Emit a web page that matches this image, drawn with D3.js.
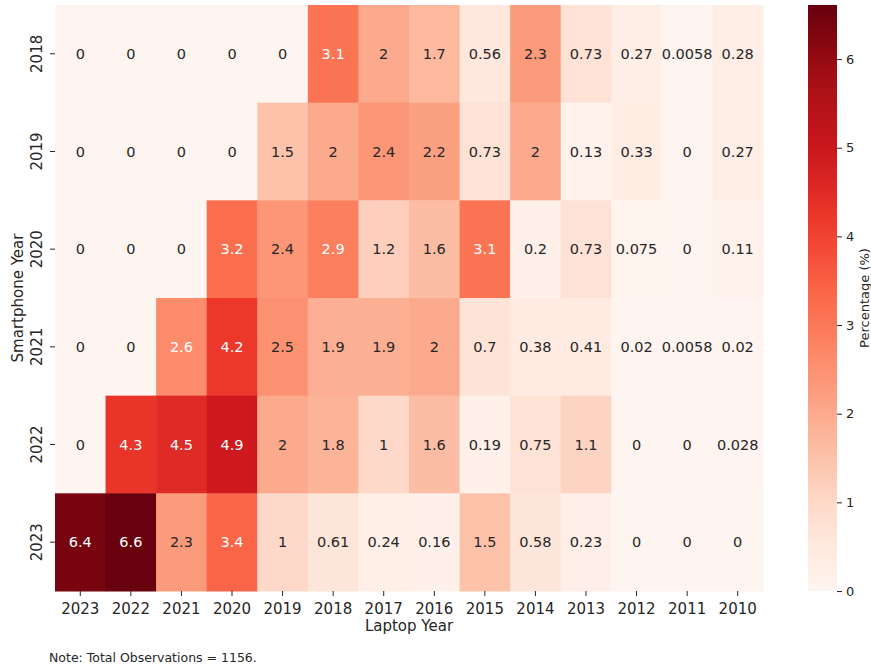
<!DOCTYPE html>
<html>
<head>
<meta charset="utf-8">
<script src="https://cdn.jsdelivr.net/npm/d3@7"></script>
<style>
  body { margin: 0; background: #fff; }
  text { font-family: "DejaVu Sans", sans-serif; fill: #262626; }
</style>
</head>
<body>
<svg id="chart" width="871" height="672"></svg>
<script>
// laptop years across, smartphone years down
var laptopYears = ["2023", "2022", "2021", "2020", "2019", "2018", "2017", "2016", "2015", "2014", "2013", "2012", "2011", "2010"];
var phoneYears = ["2018", "2019", "2020", "2021", "2022", "2023"];

var row2018 = [0, 0, 0, 0, 0, 3.1, 2, 1.7, 0.56, 2.3, 0.73, 0.27, 0.0058, 0.28];
var row2019 = [0, 0, 0, 0, 1.5, 2, 2.4, 2.2, 0.73, 2, 0.13, 0.33, 0, 0.27];
var row2020 = [0, 0, 0, 3.2, 2.4, 2.9, 1.2, 1.6, 3.1, 0.2, 0.73, 0.075, 0, 0.11];
var row2021 = [0, 0, 2.6, 4.2, 2.5, 1.9, 1.9, 2, 0.7, 0.38, 0.41, 0.02, 0.0058, 0.02];
var row2022 = [0, 4.3, 4.5, 4.9, 2, 1.8, 1, 1.6, 0.19, 0.75, 1.1, 0, 0, 0.028];
var row2023 = [6.4, 6.6, 2.3, 3.4, 1, 0.61, 0.24, 0.16, 1.5, 0.58, 0.23, 0, 0, 0];
var rows = [row2018, row2019, row2020, row2021, row2022, row2023];

var cbTicks = [0, 1, 2, 3, 4, 5, 6];
var note = "Note: Total Observations = 1156.";

var cells = [];
rows.forEach(function(r, i) {
    r.forEach(function(v, j) {
        cells.push({ phone: phoneYears[i], laptop: laptopYears[j], value: v });
    });
});

var vmax = 6.61;
var redsStops = ["#fff5f0", "#fee0d2", "#fcbba1", "#fc9272", "#fb6a4a", "#ef3b2c", "#cb181d", "#a50f15", "#67000d"];
var reds = d3.scaleLinear()
    .domain(d3.range(redsStops.length).map(function(i) { return i / (redsStops.length - 1); }))
    .range(redsStops)
    .interpolate(d3.interpolateRgb);
var color = function(v) { return reds(Math.min(1, v / vmax)); };

function luminance(c) {
    var rgb = d3.rgb(c);
    var f = function(x) {
        x = x / 255;
        return x <= 0.03928 ? x / 12.92 : Math.pow((x + 0.055) / 1.055, 2.4);
    };
    return 0.2126 * f(rgb.r) + 0.7152 * f(rgb.g) + 0.0722 * f(rgb.b);
}

var svg = d3.select("#chart");
var plotL = 55, plotR = 763, plotT = 5, plotB = 591;

var x = d3.scaleBand().domain(laptopYears).range([plotL, plotR]);
var y = d3.scaleBand().domain(phoneYears).range([plotT, plotB]);

svg.selectAll("rect.cell")
    .data(cells)
    .enter()
    .append("rect")
    .attr("class", "cell")
    .attr("x", function(d) { return x(d.laptop); })
    .attr("y", function(d) { return y(d.phone); })
    .attr("width", x.bandwidth() + 0.5)
    .attr("height", y.bandwidth() + 0.5)
    .attr("fill", function(d) { return color(d.value); });

svg.selectAll("text.annot")
    .data(cells)
    .enter()
    .append("text")
    .attr("class", "annot")
    .attr("x", function(d) { return x(d.laptop) + x.bandwidth() / 2; })
    .attr("y", function(d) { return y(d.phone) + y.bandwidth() / 2; })
    .attr("text-anchor", "middle")
    .attr("dominant-baseline", "central")
    .style("font-size", "14.5px")
    .style("fill", function(d) { return luminance(color(d.value)) < 0.408 ? "#ffffff" : "#262626"; })
    .text(function(d) { return String(d.value); });

// axes
var xAxis = svg.append("g")
    .attr("transform", "translate(0," + plotB + ")")
    .call(d3.axisBottom(x).tickSize(5).tickPadding(4));
var yAxis = svg.append("g")
    .attr("transform", "translate(" + plotL + ",0)")
    .call(d3.axisLeft(y).tickSize(5).tickPadding(4));

[xAxis, yAxis].forEach(function(g) {
    g.select(".domain").remove();
    g.selectAll(".tick line").attr("stroke", "#262626").attr("stroke-width", 1);
    g.selectAll(".tick text").style("font-size", "15px").style("font-family", "DejaVu Sans").attr("fill", "#262626");
});
xAxis.selectAll(".tick text").attr("dy", "0.95em");
yAxis.selectAll(".tick text")
    .attr("x", null).attr("dy", null)
    .attr("text-anchor", "middle")
    .attr("dominant-baseline", "central")
    .attr("transform", "translate(-18,0) rotate(-90)");

svg.append("text")
    .attr("x", (plotL + plotR) / 2)
    .attr("y", 631)
    .attr("text-anchor", "middle")
    .style("font-size", "15px")
    .text("Laptop Year");

svg.append("text")
    .attr("transform", "translate(23," + ((plotT + plotB) / 2) + ") rotate(-90)")
    .attr("text-anchor", "middle")
    .style("font-size", "15px")
    .text("Smartphone Year");

// colorbar
var cbX = 808, cbW = 29;
var cbScale = d3.scaleLinear().domain([0, vmax]).range([plotB, plotT]);
var defs = svg.append("defs");
var grad = defs.append("linearGradient")
    .attr("id", "cbgrad")
    .attr("x1", 0).attr("y1", 1).attr("x2", 0).attr("y2", 0);
d3.range(0, 1.0001, 0.05).forEach(function(t) {
    grad.append("stop").attr("offset", t).attr("stop-color", reds(t));
});
svg.append("rect")
    .attr("x", cbX).attr("y", plotT)
    .attr("width", cbW).attr("height", plotB - plotT)
    .attr("fill", "url(#cbgrad)");

var cbAxis = svg.append("g")
    .attr("transform", "translate(" + (cbX + cbW) + ",0)")
    .call(d3.axisRight(cbScale).tickValues(cbTicks).tickSize(5).tickPadding(4).tickFormat(d3.format("d")));
cbAxis.select(".domain").remove();
cbAxis.selectAll(".tick line").attr("stroke", "#262626");
cbAxis.selectAll(".tick text").style("font-size", "13px").style("font-family", "DejaVu Sans").attr("fill", "#262626");

svg.append("text")
    .attr("transform", "translate(864," + ((plotT + plotB) / 2) + ") rotate(-90)")
    .attr("text-anchor", "middle")
    .attr("dominant-baseline", "central")
    .style("font-size", "13px")
    .text("Percentage (%)");

svg.append("text")
    .attr("x", 49)
    .attr("y", 662)
    .style("font-size", "12.5px")
    .text(note);
</script>
</body>
</html>
